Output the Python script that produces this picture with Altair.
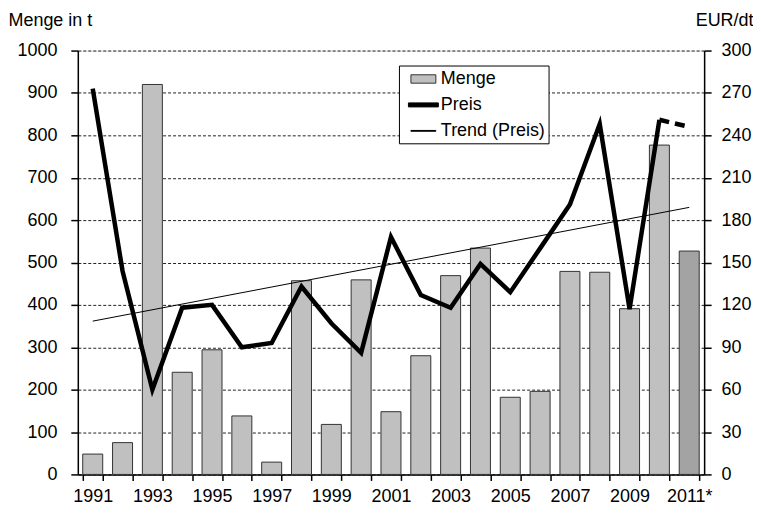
import altair as alt
import pandas as pd

years = ["1991", "1992", "1993", "1994", "1995", "1996", "1997", "1998", "1999", "2000",
         "2001", "2002", "2003", "2004", "2005", "2006", "2007", "2008", "2009", "2010", "2011*"]
menge = [48, 75, 920, 241, 294, 138, 29, 457, 118, 459, 148, 280, 469, 534, 182, 196, 479, 477, 391, 777, 527]
preis = [273, 144, 60, 118, 120, 90, 93, 133, 107, 86, 168, 127, 118, 149, 129, 160, 191, 248, 117, 251, 246]
trend_years = ["1991", "2011*"]
trend_vals = [108.5, 189]
series = ["Menge", "Preis", "Trend (Preis)"]

FONT = "Liberation Sans"
FS = 18

df = pd.DataFrame({"year": years, "menge": menge, "preis": preis})
df_trend = pd.DataFrame({"year": trend_years, "preis": trend_vals})
df_leg = pd.DataFrame({"series": series, "year": ["1991"] * 3, "preis": [-500] * 3})

x_enc = alt.X(
    "year:O", sort=years, title=None,
    scale=alt.Scale(paddingInner=0.33, paddingOuter=0.165),
    axis=alt.Axis(labelAngle=0, tickBand="extent", labelExpr="parseInt(datum.value) % 2 == 1 ? datum.value : ''",
                  labelFontSize=FS, labelPadding=7, tickSize=6, tickColor="black", domainColor="black",
                  domainWidth=1.5, tickWidth=1.5, labelColor="black", grid=False, labelFont=FONT),
)

bars = alt.Chart(df).mark_bar(stroke="#333", strokeWidth=1).encode(
    x=x_enc,
    y=alt.Y("menge:Q", scale=alt.Scale(domain=[0, 1000], nice=False),
            axis=alt.Axis(values=list(range(0, 1001, 100)), format="d", title="Menge in t", titleAngle=0,
                          titleAlign="left", titleBaseline="middle", titleX=-70, titleY=-30,
                          titleFontSize=FS, titleFontWeight="normal", titleFont=FONT, titleColor="black",
                          labelFontSize=FS, labelFont=FONT, labelColor="black", labelPadding=14,
                          tickSize=7, tickColor="black", tickWidth=1.5, domainColor="black", domainWidth=1.5,
                          grid=True, gridColor="#222", gridDash=[3, 2], gridWidth=1)),
    color=alt.condition(alt.datum.year == "2011*", alt.value("#a3a3a3"), alt.value("#c0c0c0")),
)

price_scale = alt.Scale(domain=[0, 300], nice=False)
price_axis = alt.Axis(orient="right", values=list(range(0, 301, 30)), format="d", title="EUR/dt", titleAngle=0,
                      titleAlign="right", titleBaseline="middle", titleX=49, titleY=-30,
                      titleFontSize=FS, titleFontWeight="normal", titleFont=FONT, titleColor="black",
                      labelFontSize=FS, labelFont=FONT, labelColor="black", labelPadding=10,
                      tickSize=7, tickColor="black", tickWidth=1.5, domainColor="black", domainWidth=1.5,
                      grid=False)


def py(field="preis:Q"):
    return alt.Y(field, scale=price_scale, axis=price_axis)


price_solid = alt.Chart(df).transform_filter(alt.datum.year != "2011*").mark_line(
    color="black", strokeWidth=4.5, strokeJoin="miter").encode(
    x=alt.X("year:O", sort=years),
    y=py(),
)

price_dash = alt.Chart(df).transform_filter(
    alt.FieldOneOfPredicate(field="year", oneOf=["2010", "2011*"])).mark_line(
    color="black", strokeWidth=4.5, strokeDash=[10, 6]).encode(
    x=alt.X("year:O", sort=years),
    y=py(),
)

trend = alt.Chart(df_trend).mark_line(color="black", strokeWidth=1).encode(
    x=alt.X("year:O", sort=years),
    y=py(),
)

paths = [
    "M-1.25,-0.42H1.25V0.42H-1.25Z",
    "M-1.5,-0.2H1.5V0.2H-1.5Z",
    "M-1.25,-0.04H1.25V0.04H-1.25Z",
]
leg = alt.Legend(orient="none", legendX=322, legendY=15, title=None, strokeColor="black",
                 fillColor="white", padding=3, symbolSize=400, symbolOffset=11, labelOffset=7,
                 rowPadding=6, labelFontSize=FS, labelFont=FONT, labelColor="black",
                 symbolStrokeWidth=1, symbolOpacity=1,
                 labelExpr="datum.label + '\u00a0\u00a0\u00a0'")

dummy = alt.Chart(df_leg).mark_point(filled=True, clip=True, size=400, opacity=1).encode(
    x=alt.X("year:O", sort=years),
    y=py(),
    shape=alt.Shape("series:N", scale=alt.Scale(domain=series, range=paths), legend=leg),
    fill=alt.Fill("series:N", scale=alt.Scale(domain=series, range=["#c0c0c0", "black", "black"]), legend=leg),
    stroke=alt.Stroke("series:N", scale=alt.Scale(domain=series, range=["#333", "black", "black"]), legend=leg),
)

chart = alt.layer(bars, alt.layer(price_solid, price_dash, trend, dummy)).resolve_scale(
    y="independent"
).properties(
    width=628, height=425,
    padding={"left": 0, "top": 3, "right": 0, "bottom": 5},
).configure_view(stroke=None).configure(font=FONT)

chart.save("out.html", embed_options={"renderer": "svg", "actions": False})
